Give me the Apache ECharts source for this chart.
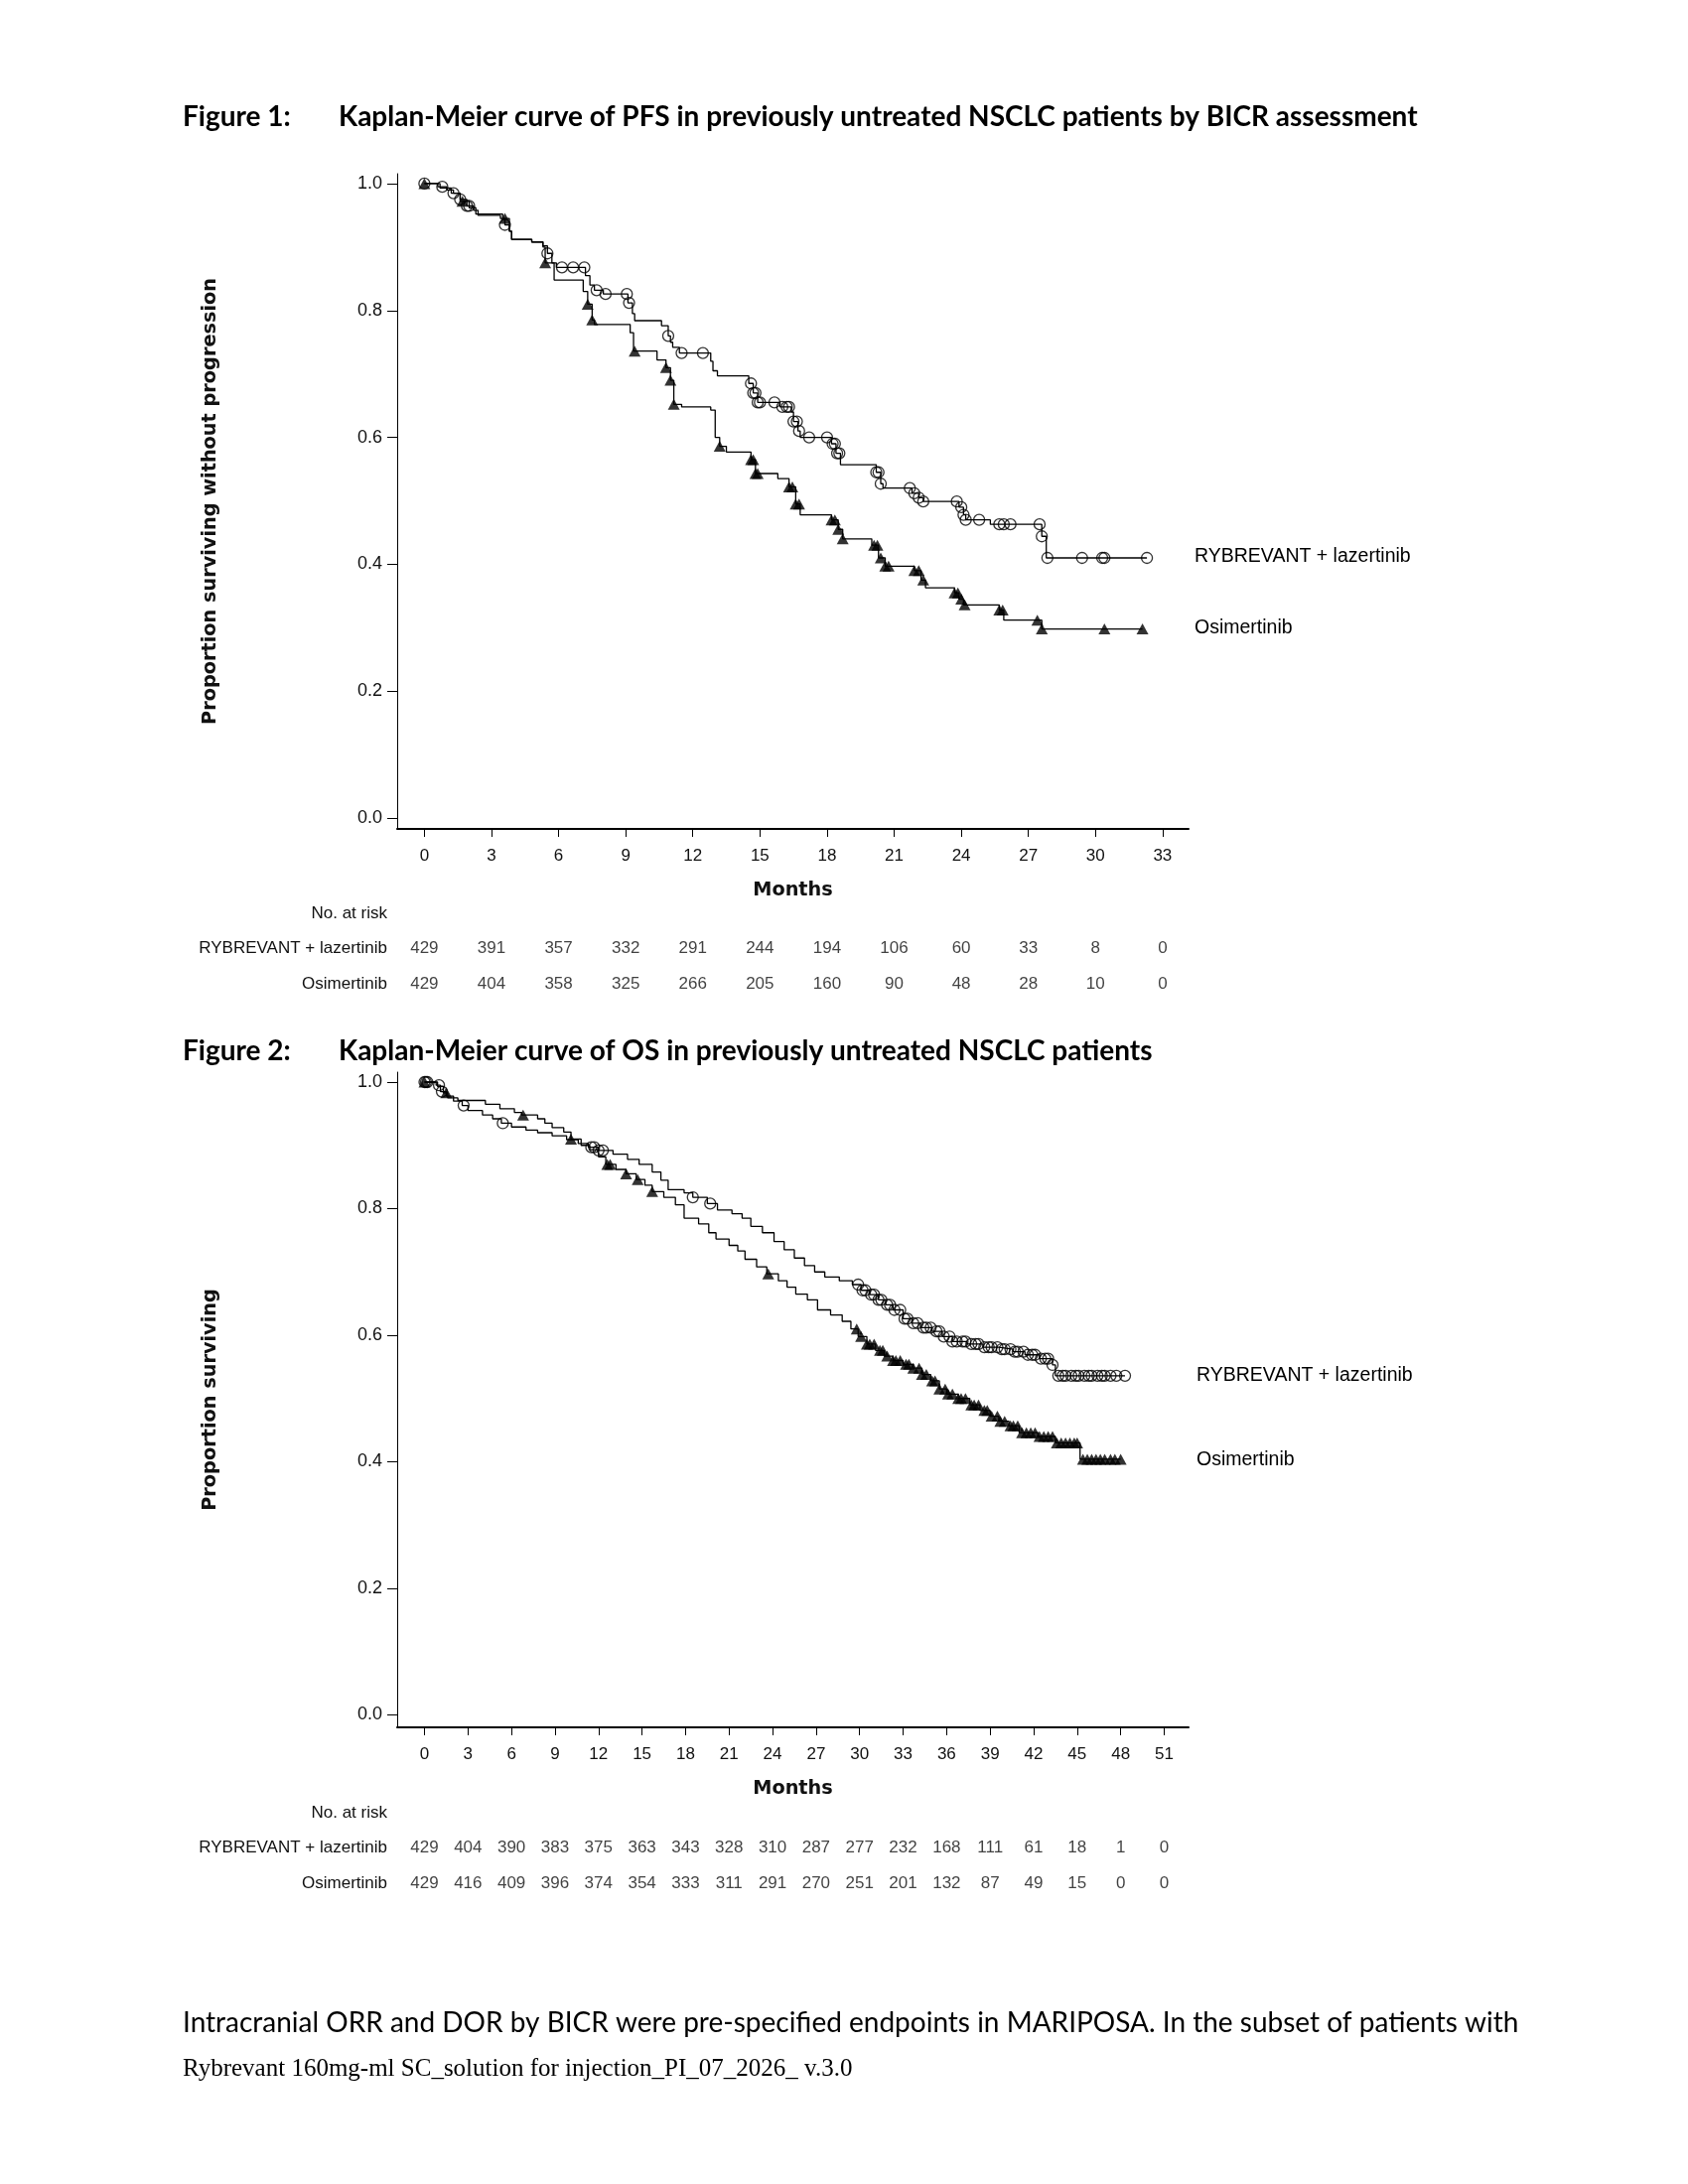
<!DOCTYPE html>
<html>
<head>
<meta charset="utf-8">
<script src="https://cdn.jsdelivr.net/npm/echarts@6/dist/echarts.min.js"></script>
<style>
  html, body { margin: 0; padding: 0; background: #fff; }
  #page { width: 1700px; height: 2200px; }
</style>
</head>
<body>
<div id="page"></div>
<script>
// ---- Figure 1 (PFS) ----
const pfsMonthTicks = [0, 3, 6, 9, 12, 15, 18, 21, 24, 27, 30, 33];
const pfsRiskRyb = [429, 391, 357, 332, 291, 244, 194, 106, 60, 33, 8, 0];
const pfsRiskOsi = [429, 404, 358, 325, 266, 205, 160, 90, 48, 28, 10, 0];

// [month, survival after the drop]
const pfsRybSteps = [
  [0, 1.0], [0.6, 0.995], [1.0, 0.99], [1.3, 0.985], [1.6, 0.975], [1.9, 0.965],
  [2.2, 0.958], [2.4, 0.95], [3.4, 0.945], [3.6, 0.935], [3.8, 0.925], [3.9, 0.912],
  [4.8, 0.908], [5.3, 0.902], [5.5, 0.89], [5.7, 0.875], [5.9, 0.868], [7.2, 0.855],
  [7.4, 0.84], [7.6, 0.832], [8.0, 0.826], [9.1, 0.812], [9.3, 0.795], [9.4, 0.784],
  [10.6, 0.776], [10.9, 0.76], [11.0, 0.75], [11.1, 0.742], [11.4, 0.733], [12.8, 0.72],
  [12.9, 0.705], [13.1, 0.697], [14.5, 0.685], [14.7, 0.67], [14.9, 0.655], [15.9, 0.648],
  [16.4, 0.64], [16.5, 0.625], [16.7, 0.61], [16.8, 0.6], [18.2, 0.59], [18.4, 0.575],
  [18.6, 0.557], [20.2, 0.545], [20.4, 0.527], [20.5, 0.52], [21.8, 0.512], [22.1, 0.505],
  [22.3, 0.499], [23.9, 0.49], [24.1, 0.478], [24.2, 0.47], [25.3, 0.463], [27.6, 0.444],
  [27.8, 0.41]
];
const pfsRybEnd = 32.3;
const pfsRybCensor = [
  0, 0.8, 1.3, 1.6, 1.9, 2.0, 3.6, 5.5, 6.15, 6.65, 7.15, 7.7, 8.1, 9.05, 9.15, 10.9,
  11.5, 12.45, 14.6, 14.7, 14.8, 14.9, 15.0, 15.65, 16.0, 16.2, 16.3, 16.5, 16.65, 16.75,
  17.2, 18.0, 18.25, 18.35, 18.45, 18.55, 20.2, 20.3, 20.4, 21.7, 21.9, 22.1, 22.3, 23.8,
  24.0, 24.1, 24.2, 24.8, 25.7, 25.9, 26.2, 27.5, 27.6, 27.85, 29.4, 30.3, 30.4, 32.3
];

const pfsOsiSteps = [
  [0, 1.0], [0.7, 0.993], [1.2, 0.985], [1.6, 0.972], [2.0, 0.962], [2.3, 0.952],
  [3.5, 0.945], [3.8, 0.925], [3.9, 0.912], [4.8, 0.908], [5.3, 0.9], [5.4, 0.875],
  [5.8, 0.848], [7.1, 0.83], [7.3, 0.81], [7.5, 0.785], [7.6, 0.778], [9.2, 0.765],
  [9.35, 0.736], [10.4, 0.722], [10.8, 0.71], [11.0, 0.69], [11.15, 0.652], [11.5, 0.648],
  [12.8, 0.643], [13.0, 0.6], [13.2, 0.586], [13.5, 0.577], [14.6, 0.565], [14.8, 0.543],
  [15.8, 0.535], [16.3, 0.522], [16.6, 0.495], [16.8, 0.478], [18.2, 0.47], [18.5, 0.455],
  [18.7, 0.44], [20.0, 0.43], [20.3, 0.41], [20.6, 0.397], [21.9, 0.39], [22.2, 0.375],
  [22.4, 0.363], [23.7, 0.355], [23.9, 0.345], [24.1, 0.336], [25.7, 0.328], [25.9, 0.312],
  [27.6, 0.298]
];
const pfsOsiEnd = 32.1;
const pfsOsiCensor = [
  0, 1.7, 3.6, 5.4, 7.3, 7.5, 9.4, 10.8, 11.0, 11.15, 13.2, 14.6, 14.7, 14.8, 14.9, 16.3,
  16.45, 16.6, 16.75, 18.2, 18.35, 18.5, 18.7, 20.1, 20.25, 20.4, 20.6, 20.75, 21.9, 22.1,
  22.3, 23.7, 23.85, 24.0, 24.15, 25.7, 25.85, 27.4, 27.6, 30.4, 32.1
];

// ---- Figure 2 (OS) ----
const osMonthTicks = [0, 3, 6, 9, 12, 15, 18, 21, 24, 27, 30, 33, 36, 39, 42, 45, 48, 51];
const osRiskRyb = [429, 404, 390, 383, 375, 363, 343, 328, 310, 287, 277, 232, 168, 111, 61, 18, 1, 0];
const osRiskOsi = [429, 416, 409, 396, 374, 354, 333, 311, 291, 270, 251, 201, 132, 87, 49, 15, 0, 0];

const osRybSteps = [
  [0, 1.0], [0.8, 0.995], [1.1, 0.985], [1.5, 0.978], [2.0, 0.97], [2.6, 0.963],
  [3.0, 0.955], [4.0, 0.948], [4.7, 0.942], [5.3, 0.935], [6.0, 0.929], [7.0, 0.924],
  [7.8, 0.92], [8.8, 0.915], [9.8, 0.909], [10.6, 0.903], [11.3, 0.897], [12.0, 0.892],
  [13.0, 0.886], [14.0, 0.878], [14.8, 0.87], [15.7, 0.858], [16.3, 0.845], [16.8, 0.83],
  [17.9, 0.825], [18.5, 0.818], [19.5, 0.808], [20.2, 0.798], [21.2, 0.792], [21.9, 0.785],
  [22.5, 0.772], [23.3, 0.762], [24.1, 0.748], [24.8, 0.735], [25.5, 0.722], [26.2, 0.71],
  [26.9, 0.7], [27.6, 0.692], [28.6, 0.686], [29.5, 0.68], [30.1, 0.671], [30.7, 0.664],
  [31.3, 0.656], [31.8, 0.648], [32.3, 0.64], [33.0, 0.626], [33.6, 0.619], [34.2, 0.612],
  [35.0, 0.606], [35.7, 0.598], [36.4, 0.59], [37.4, 0.586], [38.5, 0.581], [39.6, 0.578],
  [40.6, 0.574], [41.4, 0.569], [42.4, 0.563], [43.3, 0.553], [43.5, 0.536]
];
const osRybEnd = 48.3;
const osRybCensor = [
  0, 0.1, 0.2, 1.0, 1.2, 2.7, 5.4, 11.5, 11.7, 12.0, 12.3, 18.5, 19.7,
  29.9, 30.2, 30.4, 30.8, 31.0, 31.3, 31.5, 31.9, 32.1, 32.4, 32.8, 33.1, 33.3, 33.7,
  34.0, 34.4, 34.6, 34.9, 35.3, 35.5, 35.8, 36.2, 36.4, 36.7, 37.1, 37.3, 37.7, 38.0,
  38.2, 38.6, 38.9, 39.1, 39.5, 39.8, 40.0, 40.4, 40.7, 40.9, 41.3, 41.6, 41.9, 42.1,
  42.5, 42.8, 43.0, 43.3, 43.7, 44.0, 44.2, 44.6, 44.9, 45.1, 45.5, 45.8, 46.0, 46.4,
  46.7, 46.9, 47.3, 47.7, 48.3
];

const osOsiSteps = [
  [0, 1.0], [0.9, 0.993], [1.3, 0.983], [1.6, 0.975], [2.3, 0.971], [4.2, 0.965],
  [5.2, 0.958], [6.2, 0.952], [6.7, 0.948], [7.8, 0.942], [8.3, 0.935], [8.8, 0.928],
  [9.6, 0.921], [10.1, 0.91], [10.8, 0.9], [11.4, 0.893], [12.0, 0.882], [12.5, 0.87],
  [13.2, 0.862], [13.9, 0.855], [14.6, 0.846], [15.2, 0.837], [15.7, 0.827], [16.5, 0.818],
  [17.3, 0.806], [17.9, 0.785], [18.9, 0.776], [19.6, 0.762], [20.1, 0.752], [21.0, 0.742],
  [21.6, 0.733], [22.1, 0.72], [22.9, 0.708], [23.6, 0.697], [24.4, 0.686], [25.0, 0.676],
  [25.6, 0.665], [26.4, 0.656], [27.1, 0.64], [28.0, 0.632], [28.8, 0.622], [29.4, 0.61],
  [29.9, 0.598], [30.5, 0.586], [31.1, 0.576], [31.7, 0.567], [32.3, 0.56], [33.0, 0.554],
  [33.7, 0.548], [34.3, 0.538], [34.9, 0.528], [35.5, 0.515], [36.0, 0.507], [36.8, 0.5],
  [37.6, 0.49], [38.3, 0.481], [39.0, 0.472], [39.6, 0.464], [40.3, 0.457], [41.0, 0.446],
  [42.3, 0.44], [43.5, 0.43], [45.2, 0.404]
];
const osOsiEnd = 48.0;
const osOsiCensor = [
  0, 1.5, 6.8, 10.1, 12.6, 12.8, 13.9, 14.7, 15.7, 23.7,
  29.8, 30.1, 30.5, 30.7, 31.0, 31.4, 31.6, 31.9, 32.3, 32.5, 32.8, 33.2, 33.4, 33.7,
  34.1, 34.3, 34.6, 35.0, 35.2, 35.5, 35.9, 36.1, 36.4, 36.8, 37.0, 37.3, 37.7, 37.9,
  38.2, 38.6, 38.8, 39.1, 39.5, 39.7, 40.0, 40.4, 40.6, 40.9, 41.2, 41.5, 41.8, 42.1,
  42.4, 42.7, 43.0, 43.3, 43.6, 43.9, 44.2, 44.5, 44.8, 45.0,
  45.4, 45.7, 46.0, 46.3, 46.6, 46.9, 47.3, 47.6, 48.0
];

const yTicks = [0, 0.2, 0.4, 0.6, 0.8, 1.0];
const riskRows = ['No. at risk', 'RYBREVANT + lazertinib', 'Osimertinib'];

// ---- helpers ----
function survAt(steps, t) {
  let s = steps[0][1];
  for (const p of steps) { if (p[0] <= t) s = p[1]; }
  return s;
}
function kmLine(steps, end) {
  return steps.concat([[end, steps[steps.length - 1][1]]]);
}
function censorPts(steps, times) {
  return times.map(t => [t, survAt(steps, t)]);
}
function riskPts(ticks, ryb, osi) {
  const out = [];
  ticks.forEach((m, i) => {
    out.push([m, riskRows[1], ryb[i]]);
    out.push([m, riskRows[2], osi[i]]);
  });
  return out;
}

const AX = 'Liberation Sans';
const TXT = '#111';

function plotX(grid, min, max, ticks) {
  return {
    type: 'value', gridIndex: grid, min: min, max: max,
    name: 'Months', nameLocation: 'middle', nameGap: 52,
    nameTextStyle: { fontFamily: 'DejaVu Sans', fontWeight: 'bold', fontSize: 19.3, color: TXT },
    axisLine: { onZero: false, lineStyle: { color: '#000', width: 2 } },
    axisTick: { show: true, length: 8, customValues: ticks, lineStyle: { color: '#000', width: 1 } },
    axisLabel: { customValues: ticks, margin: 19, fontFamily: AX, fontSize: 17, color: TXT },
    splitLine: { show: false }
  };
}
function plotY(grid, min, max, name) {
  return {
    type: 'value', gridIndex: grid, min: min, max: max,
    name: name, nameLocation: 'middle', nameGap: 179,
    nameTextStyle: { fontFamily: 'DejaVu Sans', fontWeight: 'bold', fontSize: 19.3, color: TXT },
    axisLine: { onZero: false, lineStyle: { color: '#000', width: 1 } },
    axisTick: { show: true, length: 10, customValues: yTicks, lineStyle: { color: '#000', width: 1 } },
    axisLabel: { customValues: yTicks, margin: 15, fontFamily: AX, fontSize: 18, color: TXT,
      formatter: v => v.toFixed(1) },
    splitLine: { show: false }
  };
}
function riskX(grid, min, max) {
  return { type: 'value', gridIndex: grid, min: min, max: max, show: false };
}
function riskY(grid) {
  return {
    type: 'category', gridIndex: grid, data: riskRows, inverse: true,
    axisLine: { show: false }, axisTick: { show: false }, splitLine: { show: false },
    axisLabel: { margin: 10, fontFamily: AX, fontSize: 17, color: TXT }
  };
}
function lineSeries(name, xi, steps, end) {
  return {
    name: name, type: 'line', xAxisIndex: xi, yAxisIndex: xi, step: 'end',
    data: kmLine(steps, end), showSymbol: false, symbol: 'none', silent: true,
    lineStyle: { color: '#000', width: 1.3 }, z: 2
  };
}
function circleSeries(xi, steps, times) {
  return {
    type: 'scatter', xAxisIndex: xi, yAxisIndex: xi, data: censorPts(steps, times),
    symbol: 'circle', symbolSize: 11, silent: true, z: 3,
    itemStyle: { color: 'rgba(255,255,255,0)', borderColor: '#000', borderWidth: 1.3 }
  };
}
function triSeries(xi, steps, times) {
  return {
    type: 'scatter', xAxisIndex: xi, yAxisIndex: xi, data: censorPts(steps, times),
    symbol: 'triangle', symbolSize: [12, 11], silent: true, z: 3,
    itemStyle: { color: '#000' }
  };
}
function riskSeries(xi, ticks, ryb, osi) {
  return {
    type: 'scatter', xAxisIndex: xi, yAxisIndex: xi, data: riskPts(ticks, ryb, osi),
    symbolSize: 0, silent: true,
    label: { show: true, position: 'inside', formatter: p => String(p.value[2]),
      fontFamily: AX, fontSize: 17, color: TXT }
  };
}
function txt(x, y, s, size, family, weight) {
  return {
    type: 'text', x: x, y: y, silent: true,
    style: { text: s, fontSize: size, fontFamily: family, fontWeight: weight || 'normal',
      fill: '#000', align: 'left', verticalAlign: 'middle' }
  };
}

// axis ranges (plot area left edge sits a bit before month 0)
const pfsMin = -1.216, pfsMax = 34.16;
const osMin = -1.883, osMax = 52.68;

const chart = echarts.init(document.getElementById('page'), null, { renderer: 'canvas' });
const option = {
  backgroundColor: '#fff',
  animation: false,
  grid: [
    { left: 400, top: 175, width: 797, height: 660 },
    { left: 400, top: 902, width: 797, height: 107 },
    { left: 400, top: 1080, width: 797, height: 660 },
    { left: 400, top: 1808, width: 797, height: 107 }
  ],
  xAxis: [
    plotX(0, pfsMin, pfsMax, pfsMonthTicks),
    riskX(1, pfsMin, pfsMax),
    plotX(2, osMin, osMax, osMonthTicks),
    riskX(3, osMin, osMax)
  ],
  yAxis: [
    plotY(0, -0.0172, 1.0156, 'Proportion surviving without progression'),
    riskY(1),
    plotY(2, -0.0196, 1.0157, 'Proportion surviving'),
    riskY(3)
  ],
  series: [
    lineSeries('RYBREVANT + lazertinib', 0, pfsRybSteps, pfsRybEnd),
    lineSeries('Osimertinib', 0, pfsOsiSteps, pfsOsiEnd),
    circleSeries(0, pfsRybSteps, pfsRybCensor),
    triSeries(0, pfsOsiSteps, pfsOsiCensor),
    riskSeries(1, pfsMonthTicks, pfsRiskRyb, pfsRiskOsi),
    lineSeries('RYBREVANT + lazertinib', 2, osRybSteps, osRybEnd),
    lineSeries('Osimertinib', 2, osOsiSteps, osOsiEnd),
    circleSeries(2, osRybSteps, osRybCensor),
    triSeries(2, osOsiSteps, osOsiCensor),
    riskSeries(3, osMonthTicks, osRiskRyb, osRiskOsi)
  ],
  graphic: [
    txt(184, 118, 'Figure 1:', 28, 'Lato', 'bold'),
    txt(341, 118, 'Kaplan-Meier curve of PFS in previously untreated NSCLC patients by BICR assessment', 28, 'Lato', 'bold'),
    txt(1203, 561, 'RYBREVANT + lazertinib', 19.5, AX),
    txt(1203, 633, 'Osimertinib', 19.5, AX),
    txt(184, 1059, 'Figure 2:', 28, 'Lato', 'bold'),
    txt(341, 1059, 'Kaplan-Meier curve of OS in previously untreated NSCLC patients', 28, 'Lato', 'bold'),
    txt(1205, 1386, 'RYBREVANT + lazertinib', 19.5, AX),
    txt(1205, 1471, 'Osimertinib', 19.5, AX),
    txt(184, 2038, 'Intracranial ORR and DOR by BICR were pre-specified endpoints in MARIPOSA. In the subset of patients with', 28, 'Lato'),
    txt(184, 2084, 'Rybrevant 160mg-ml SC_solution for injection_PI_07_2026_ v.3.0', 25, 'Liberation Serif')
  ]
};
chart.setOption(option);
</script>
</body>
</html>
